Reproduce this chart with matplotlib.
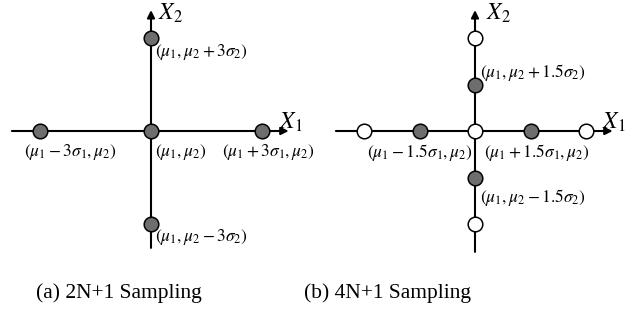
import matplotlib.pyplot as plt

plt.rcParams['mathtext.fontset'] = 'stix'
plt.rcParams['font.family'] = 'Liberation Serif'

# sample points in units of sigma (x: X1 offset, y: X2 offset)
a_x = [-3, 0, 3, 0, 0]
a_y = [0, 0, 0, 3, -3]
b_fill_x = [-1.5, 1.5, 0, 0]
b_fill_y = [0, 0, 1.5, -1.5]
b_open_x = [-3, 0, 3, 0, 0]
b_open_y = [0, 0, 0, 3, -3]

a_labels = [r'$(\mu_1-3\sigma_1,\mu_2)$', r'$(\mu_1,\mu_2)$',
            r'$(\mu_1+3\sigma_1,\mu_2)$', r'$(\mu_1,\mu_2+3\sigma_2)$',
            r'$(\mu_1,\mu_2-3\sigma_2)$']
b_labels = [r'$(\mu_1-1.5\sigma_1,\mu_2)$', r'$(\mu_1+1.5\sigma_1,\mu_2)$',
            r'$(\mu_1,\mu_2+1.5\sigma_2)$', r'$(\mu_1,\mu_2-1.5\sigma_2)$']
captions = ['(a) 2N+1 Sampling', '(b) 4N+1 Sampling']

W, H = 636, 329
fig = plt.figure(figsize=(W / 100, H / 100), dpi=100)

def make_ax(left_px):
    ax = fig.add_axes([left_px / W, (H - 262) / H, 302 / W, 262 / H])
    ax.set_xlim(-151 / 37, 151 / 37)
    ax.set_ylim(-131 / 31, 131 / 31)
    ax.axis('off')
    return ax

arrow = dict(arrowstyle='-|>', lw=1.5, color='black', mutation_scale=11,
             shrinkA=0, shrinkB=0)
mk = dict(marker='o', ms=10.5, mec='black', mew=1.1, ls='none', zorder=3)
fs = 12.5
xs = 17

# (a)
ax = make_ax(0)
ax.annotate('', xy=(3.72, 0), xytext=(-3.76, 0), arrowprops=arrow)
ax.annotate('', xy=(0, 3.9), xytext=(0, -3.77), arrowprops=arrow)
ax.plot(a_x, a_y, mfc='#6e6e6e', **mk)
ax.text(-2.19, -0.68, a_labels[0], ha='center', va='center', fontsize=fs)
ax.text(0.1, -0.68, a_labels[1], ha='left', va='center', fontsize=fs)
ax.text(1.93, -0.68, a_labels[2], ha='left', va='center', fontsize=fs)
ax.text(0.1, 2.55, a_labels[3], ha='left', va='center', fontsize=fs)
ax.text(0.1, -3.42, a_labels[4], ha='left', va='center', fontsize=fs)
ax.text(3.45, 0.08, r'$X_1$', ha='left', va='baseline', fontsize=xs)
ax.text(0.2, 3.58, r'$X_2$', ha='left', va='baseline', fontsize=xs)

# (b)
ax = make_ax(324)
ax.annotate('', xy=(3.72, 0), xytext=(-3.76, 0), arrowprops=arrow)
ax.annotate('', xy=(0, 3.9), xytext=(0, -3.9), arrowprops=arrow)
ax.plot(b_open_x, b_open_y, mfc='white', **mk)
ax.plot(b_fill_x, b_fill_y, mfc='#6e6e6e', **mk)
ax.text(-1.49, -0.68, b_labels[0], ha='center', va='center', fontsize=fs)
ax.text(0.24, -0.68, b_labels[1], ha='left', va='center', fontsize=fs)
ax.text(0.14, 1.9, b_labels[2], ha='left', va='center', fontsize=fs)
ax.text(0.14, -2.16, b_labels[3], ha='left', va='center', fontsize=fs)
ax.text(3.42, 0.08, r'$X_1$', ha='left', va='baseline', fontsize=xs)
ax.text(0.3, 3.58, r'$X_2$', ha='left', va='baseline', fontsize=xs)

fig.text(119 / W, 1 - 293 / H, captions[0], ha='center', va='center', fontsize=15.5)
fig.text(388 / W, 1 - 293 / H, captions[1], ha='center', va='center', fontsize=15.5)

fig.savefig('out.png', dpi=100)
